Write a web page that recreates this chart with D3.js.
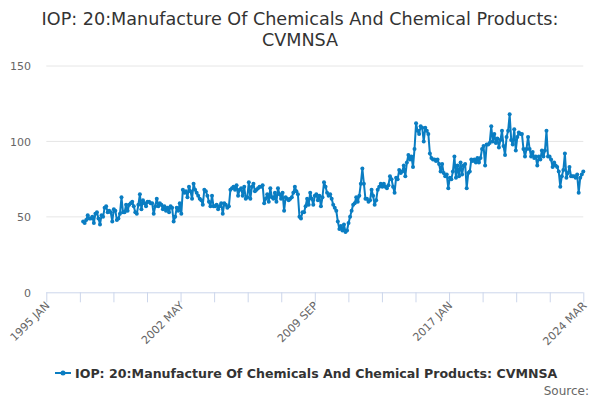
<!DOCTYPE html>
<html>
<head>
<meta charset="utf-8">
<script src="https://cdn.jsdelivr.net/npm/d3@7"></script>
<style>
  html, body { margin: 0; padding: 0; background: #fff; }
  svg { display: block; font-family: "DejaVu Sans", Verdana, sans-serif; }
</style>
</head>
<body>
<svg id="chart" width="600" height="400"></svg>
<script>
const titleLines = ["IOP: 20:Manufacture Of Chemicals And Chemical Products:", "CVMNSA"];
const seriesName = "IOP: 20:Manufacture Of Chemicals And Chemical Products: CVMNSA";
const sourceText = "Source:";
const yTicks = [0, 50, 100, 150];
const xTickLabels = ["1995 JAN", "2002 MAY", "2009 SEP", "2017 JAN", "2024 MAR"];
const axisStart = { year: 1995, month: 0 };
const axisEnd = { year: 2024, month: 2 };
const seriesStart = { year: 1997, month: 0 };
// monthly values, 1997 JAN .. 2024 MAR
const values = [
  47,46,48,51,49,49,50,46,52,53,49,45,
  51,50,56,57,53,54,53,47,55,54,48,49,
  52,63,53,53,58,54,58,59,60,57,53,52,
  58,65,55,61,59,57,60,60,59,59,52,57,
  62,57,59,58,55,57,54,56,53,57,56,47,
  50,56,54,59,52,68,66,67,63,70,67,62,
  72,68,66,64,62,61,58,68,67,64,60,57,
  64,57,57,58,55,57,59,52,59,58,56,57,
  68,69,70,68,71,64,68,69,64,70,62,63,
  73,62,70,72,67,68,69,70,70,71,59,62,
  65,60,69,63,62,66,60,69,65,62,66,54,
  63,62,61,62,63,66,70,67,65,50,49,53,
  53,57,62,58,66,62,58,64,65,61,64,57,
  63,73,70,66,64,65,62,58,56,54,47,42,
  44,41,45,40,41,46,50,54,58,59,63,60,
  64,72,82,72,62,62,60,61,68,64,58,61,
  68,70,72,70,72,70,69,71,77,75,70,66,
  76,75,81,79,80,84,77,86,91,88,90,83,
  95,112,107,105,110,109,100,109,107,105,92,89,
  88,88,87,88,85,80,85,79,77,78,69,76,
  75,80,90,76,84,77,86,78,84,85,69,79,
  80,88,87,88,86,89,86,89,95,97,84,98,
  98,99,110,100,105,99,102,96,101,107,97,91,
  103,107,118,101,98,108,94,103,106,105,105,95,
  90,95,103,95,90,93,89,90,84,90,88,94,
  90,94,107,90,90,88,83,86,84,83,80,70,
  77,81,92,76,79,83,77,77,77,76,78,66,
  76,78,80
];

const svg = d3.select("#chart");
const color = "#0a7dc2";

const totalMonths = (axisEnd.year - axisStart.year) * 12 + (axisEnd.month - axisStart.month);
const startIdx = (seriesStart.year - axisStart.year) * 12 + (seriesStart.month - axisStart.month);
const data = values.map((v, i) => ({ m: startIdx + i, v }));

const x = d3.scaleLinear().domain([0, totalMonths]).range([46.3, 583.3]);
const y = d3.scaleLinear().domain([0, 150]).range([292.3, 66]);

// title
svg.append("g").selectAll("text").data(titleLines).join("text")
  .attr("x", 300).attr("y", (d, i) => 24.5 + i * 21)
  .attr("text-anchor", "middle").attr("fill", "#333").attr("font-size", 17.6)
  .text(d => d);

// grid
svg.append("g").selectAll("line").data(yTicks.filter(t => t > 0)).join("line")
  .attr("x1", x.range()[0]).attr("x2", x.range()[1])
  .attr("y1", d => y(d)).attr("y2", d => y(d))
  .attr("stroke", "#e6e6e6").attr("stroke-width", 1);

// y labels
const yAxis = d3.axisLeft(y).tickValues(yTicks).tickSize(0).tickPadding(0);
const yg = svg.append("g").attr("transform", "translate(31,0)").call(yAxis);
yg.select(".domain").remove();
yg.selectAll("text").attr("fill", "#666").attr("font-size", 11)
  .attr("font-family", "DejaVu Sans, sans-serif").attr("dy", "0.35em");

// x axis
const nTicks = 16;
const xTickVals = d3.range(nTicks + 1).map(i => i * totalMonths / nTicks);
const xAxis = d3.axisBottom(x).tickValues(xTickVals).tickSize(10).tickFormat(() => "");
const xg = svg.append("g").attr("transform", `translate(0,${y(0)})`).call(xAxis);
xg.select(".domain").attr("stroke", "#ccd6eb").attr("d", `M${x.range()[0]},0.5H${x.range()[1]}`);
xg.selectAll(".tick line").attr("stroke", "#ccd6eb");

svg.append("g").selectAll("text").data(xTickLabels).join("text")
  .attr("transform", (d, i) => `translate(${x(xTickVals[i * 4]) + 4},${y(0) + 14}) rotate(-45)`)
  .attr("text-anchor", "end").attr("fill", "#666").attr("font-size", 11)
  .text(d => d);

// series
const line = d3.line().x(d => x(d.m)).y(d => y(d.v));
svg.append("path").datum(data).attr("d", line)
  .attr("fill", "none").attr("stroke", color).attr("stroke-width", 2)
  .attr("stroke-linejoin", "round");
svg.append("g").selectAll("circle").data(data).join("circle")
  .attr("cx", d => x(d.m)).attr("cy", d => y(d.v)).attr("r", 2)
  .attr("fill", color);

// legend
const lg = svg.append("g").attr("transform", "translate(0,373)");
lg.append("line").attr("x1", 55).attr("x2", 71).attr("y1", 0).attr("y2", 0)
  .attr("stroke", color).attr("stroke-width", 2);
lg.append("circle").attr("cx", 63).attr("cy", 0).attr("r", 2.5).attr("fill", color);
lg.append("text").attr("x", 75).attr("y", 4.5).attr("fill", "#333")
  .attr("font-size", 12.6).attr("font-weight", "bold").text(seriesName);

svg.append("text").attr("x", 589).attr("y", 395).attr("text-anchor", "end")
  .attr("fill", "#666").attr("font-size", 12).text(sourceText);
</script>
</body>
</html>
